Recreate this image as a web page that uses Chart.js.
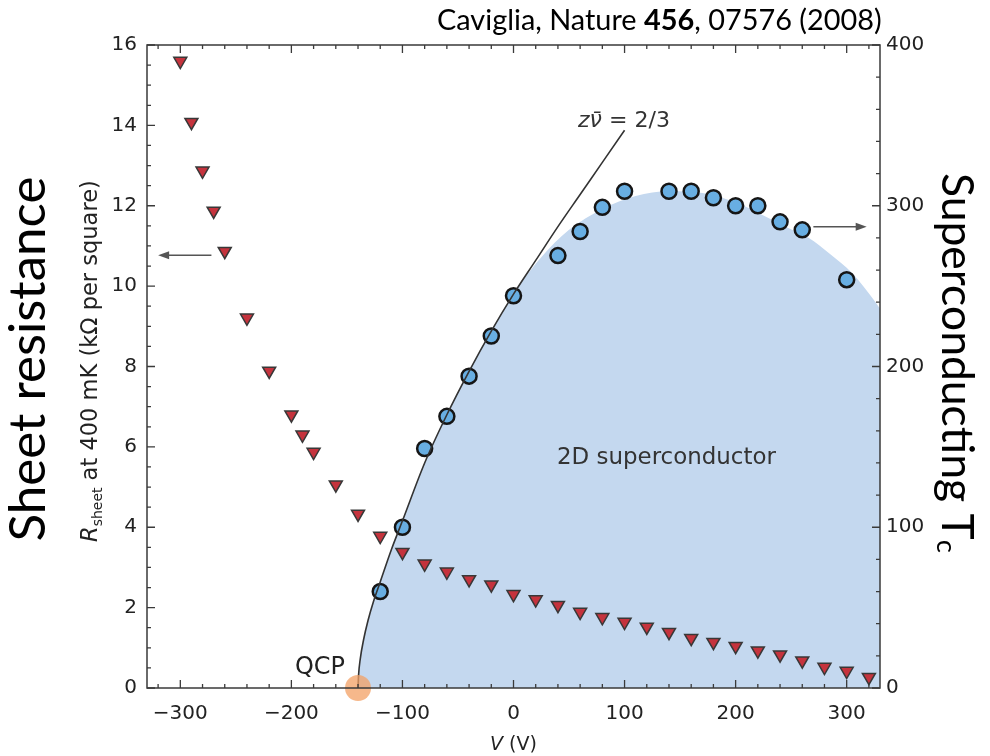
<!DOCTYPE html>
<html>
<head>
<meta charset="utf-8">
<script src="https://cdn.jsdelivr.net/npm/chart.js@4.4.1/dist/chart.umd.min.js"></script>
<style>
  html, body { margin: 0; padding: 0; background: #fff; }
  #wrap { width: 990px; height: 756px; position: relative; }
</style>
</head>
<body>
<div id="wrap"><canvas id="c"></canvas></div>
<script>
// sheet resistance at 400 mK (left axis, kOhm per square)
const gateV = [-300, -290, -280, -270, -260, -240, -220, -200, -190, -180, -160, -140, -120, -100, -80, -60, -40, -20,
  0, 20, 40, 60, 80, 100, 120, 140, 160, 180, 200, 220, 240, 260, 280, 300, 320];
const rSheet = [15.6, 14.08, 12.87, 11.87, 10.87, 9.21, 7.89, 6.8, 6.3, 5.87, 5.06, 4.33, 3.78, 3.38, 3.09, 2.89, 2.7, 2.57,
  2.33, 2.2, 2.06, 1.89, 1.76, 1.64, 1.52, 1.39, 1.24, 1.14, 1.04, 0.93, 0.83, 0.68, 0.52, 0.42, 0.27];

// superconducting Tc (right axis, mK)
const tcV = [-120, -100, -80, -60, -40, -20, 0, 40, 60, 80, 100, 140, 160, 180, 200, 220, 240, 260, 300];
const tcMk = [60, 100, 149, 169, 194, 219, 244, 269, 284, 299, 309, 309, 309, 305, 300, 300, 290, 285, 254];

// z nu = 2/3 fit line
const fitV = [-140, -139.5, -138, -135, -131, -126, -120, -110, -100, -80, -60, -40, -20, 0, 20, 40, 60, 80, 100];
const fitTc = [0, 8, 18, 30, 42, 54, 66, 86, 104, 140, 170, 197, 222, 245, 266, 287, 307, 327, 347];

// outline of the shaded 2D superconductor dome
const domeV = [-140, -139.5, -138, -135, -131, -126, -120, -110, -100, -80, -60, -40, -20, 0, 10, 25, 50, 80, 110, 140,
  170, 200, 225, 245, 266, 285, 305, 326, 330];
const domeTc = [0, 8, 18, 30, 42, 54, 66, 86, 104, 140, 170, 197, 222, 245, 255, 268, 285, 298, 306, 309,
  308, 302, 294, 287, 280, 270, 258, 240, 236];

const qcpV = [-140];
const qcpTc = [0];

const xTicks = [-300, -200, -100, 0, 100, 200, 300];
const yTicks = [0, 2, 4, 6, 8, 10, 12, 14, 16];
const y2Ticks = [0, 100, 200, 300, 400];

const pts = (xs, ys) => xs.map((x, i) => ({ x: x, y: ys[i] }));
const minus = (v) => String(v).replace('-', '\u2212');

function rich(ctx, parts, o) {
  const base = 20;
  const fontOf = (p, s) => (p.i ? 'italic ' : '') + (p.b ? 'bold ' : '') + (s * (p.r || 1)) + 'px ' + o.family;
  let w = 0;
  parts.forEach((p) => { ctx.font = fontOf(p, base); w += ctx.measureText(p.t).width; });
  const size = base * o.width / w;
  ctx.save();
  ctx.translate(o.x, o.y);
  ctx.rotate(o.angle * Math.PI / 180);
  ctx.fillStyle = o.color;
  ctx.textAlign = 'left';
  ctx.textBaseline = 'alphabetic';
  let cx = o.align === 'center' ? -o.width / 2 : 0;
  parts.forEach((p) => {
    ctx.font = fontOf(p, size);
    ctx.fillText(p.t, cx, (p.dy || 0) * size);
    cx += ctx.measureText(p.t).width;
  });
  ctx.restore();
}

function arrow(ctx, x1, y, x2) {
  const dir = Math.sign(x2 - x1);
  ctx.beginPath();
  ctx.moveTo(x1, y);
  ctx.lineTo(x2 - dir * 8, y);
  ctx.stroke();
  ctx.beginPath();
  ctx.moveTo(x2, y);
  ctx.lineTo(x2 - dir * 11, y - 4);
  ctx.lineTo(x2 - dir * 11, y + 4);
  ctx.closePath();
  ctx.fill();
}

const decor = {
  id: 'decor',
  afterDatasetsDraw(chart) {
    const { ctx, chartArea: a, scales } = chart;
    const sx = scales.x, sy = scales.y, sy2 = scales.y2;
    ctx.save();
    ctx.strokeStyle = '#3a3a3a';
    ctx.lineWidth = 1.5;
    ctx.strokeRect(a.left, a.top, a.right - a.left, a.bottom - a.top);
    ctx.lineWidth = 1.3;
    ctx.beginPath();
    for (let v = -320; v <= 320; v += 20) {
      const px = sx.getPixelForValue(v);
      const len = v % 100 === 0 ? 8 : 4;
      ctx.moveTo(px, a.bottom); ctx.lineTo(px, a.bottom - len);
      ctx.moveTo(px, a.top); ctx.lineTo(px, a.top + len);
    }
    for (let v = 0; v <= 16; v += 0.5) {
      const py = sy.getPixelForValue(v);
      const len = v % 2 === 0 ? 8 : 4;
      ctx.moveTo(a.left, py); ctx.lineTo(a.left + len, py);
    }
    for (let v = 0; v <= 400; v += 20) {
      const py = sy2.getPixelForValue(v);
      const len = v % 100 === 0 ? 8 : 4;
      ctx.moveTo(a.right, py); ctx.lineTo(a.right - len, py);
    }
    ctx.stroke();

    // arrows pointing to each axis
    ctx.strokeStyle = '#555';
    ctx.fillStyle = '#555';
    ctx.lineWidth = 1.5;
    arrow(ctx, sx.getPixelForValue(-272), sy.getPixelForValue(10.77), sx.getPixelForValue(-320));
    arrow(ctx, sx.getPixelForValue(270), sy2.getPixelForValue(287), sx.getPixelForValue(318));
    ctx.restore();

    const sans = "'DejaVu Sans'";
    rich(ctx, [{ t: 'Caviglia, Nature ' }, { t: '456', b: true }, { t: ', 07576 (2008)' }],
      { x: 437, y: 30, angle: 0, width: 445, family: 'Lato', color: '#000' });
    rich(ctx, [{ t: 'Sheet resistance' }],
      { x: 45, y: 359, angle: -90, align: 'center', width: 365, family: 'Lato', color: '#000' });
    rich(ctx, [{ t: 'Superconducting T' }, { t: 'c', r: 0.62, dy: 0.12 }],
      { x: 942, y: 173, angle: 90, width: 380, family: 'Lato', color: '#000' });
    rich(ctx, [{ t: 'R', i: true }, { t: 'sheet', r: 0.62, dy: 0.2 }, { t: ' at 400 mK (k\u03a9 per square)' }],
      { x: 97, y: 361, angle: -90, align: 'center', width: 362, family: sans, color: '#222' });
    rich(ctx, [{ t: 'V', i: true }, { t: ' (V)' }],
      { x: 490, y: 750, angle: 0, width: 47, family: sans, color: '#222' });
    rich(ctx, [{ t: 'z\u03bd\u0304', i: true }, { t: ' = 2/3' }],
      { x: 578, y: 127, angle: 0, width: 92, family: sans, color: '#333' });
    rich(ctx, [{ t: '2D superconductor' }],
      { x: 557, y: 464, angle: 0, width: 219, family: sans, color: '#333' });
    rich(ctx, [{ t: 'QCP' }],
      { x: 295, y: 674, angle: 0, width: 50, family: sans, color: '#222' });
  }
};

const tickFont = { family: 'DejaVu Sans', size: 20 };

new Chart(document.getElementById('c'), {
  type: 'scatter',
  data: {
    datasets: [
      {
        data: pts(qcpV, qcpTc),
        yAxisID: 'y2',
        pointRadius: 13,
        backgroundColor: 'rgba(243, 160, 100, 0.75)',
        borderWidth: 0,
        clip: false,
        order: 0
      },
      {
        data: pts(gateV, rSheet),
        yAxisID: 'y',
        pointStyle: 'triangle',
        rotation: 180,
        pointRadius: 7.5,
        backgroundColor: '#c5333d',
        borderColor: '#383838',
        borderWidth: 1.5,
        order: 1
      },
      {
        type: 'line',
        data: pts(fitV, fitTc),
        yAxisID: 'y2',
        borderColor: '#333',
        borderWidth: 1.6,
        pointRadius: 0,
        cubicInterpolationMode: 'monotone',
        fill: false,
        order: 2
      },
      {
        data: pts(tcV, tcMk),
        yAxisID: 'y2',
        pointRadius: 7.5,
        backgroundColor: '#68aee2',
        borderColor: '#151515',
        borderWidth: 2.5,
        order: 3
      },
      {
        type: 'line',
        data: pts(domeV, domeTc),
        yAxisID: 'y2',
        borderWidth: 0,
        pointRadius: 0,
        cubicInterpolationMode: 'monotone',
        backgroundColor: '#c4d8ef',
        fill: 'origin',
        order: 4
      }
    ]
  },
  options: {
    responsive: true,
    maintainAspectRatio: false,
    animation: false,
    events: [],
    layout: { padding: { top: 45, left: 0, right: 0, bottom: 0 } },
    plugins: { legend: { display: false }, tooltip: { enabled: false } },
    scales: {
      x: {
        type: 'linear',
        min: -330,
        max: 330,
        grid: { display: false, drawTicks: false },
        border: { display: false },
        afterBuildTicks: (s) => { s.ticks = xTicks.map((v) => ({ value: v })); },
        afterFit: (s) => { s.height = 68; },
        ticks: { font: tickFont, color: '#222', padding: 14, maxRotation: 0, callback: minus }
      },
      y: {
        position: 'left',
        min: 0,
        max: 16,
        grid: { display: false, drawTicks: false },
        border: { display: false },
        afterBuildTicks: (s) => { s.ticks = yTicks.map((v) => ({ value: v })); },
        afterFit: (s) => { s.width = 147; },
        ticks: { font: tickFont, color: '#222', padding: 10 }
      },
      y2: {
        position: 'right',
        min: 0,
        max: 400,
        grid: { display: false, drawTicks: false },
        border: { display: false },
        afterBuildTicks: (s) => { s.ticks = y2Ticks.map((v) => ({ value: v })); },
        afterFit: (s) => { s.width = 110; },
        ticks: { font: tickFont, color: '#222', padding: 6 }
      }
    }
  },
  plugins: [decor]
});
</script>
</body>
</html>
